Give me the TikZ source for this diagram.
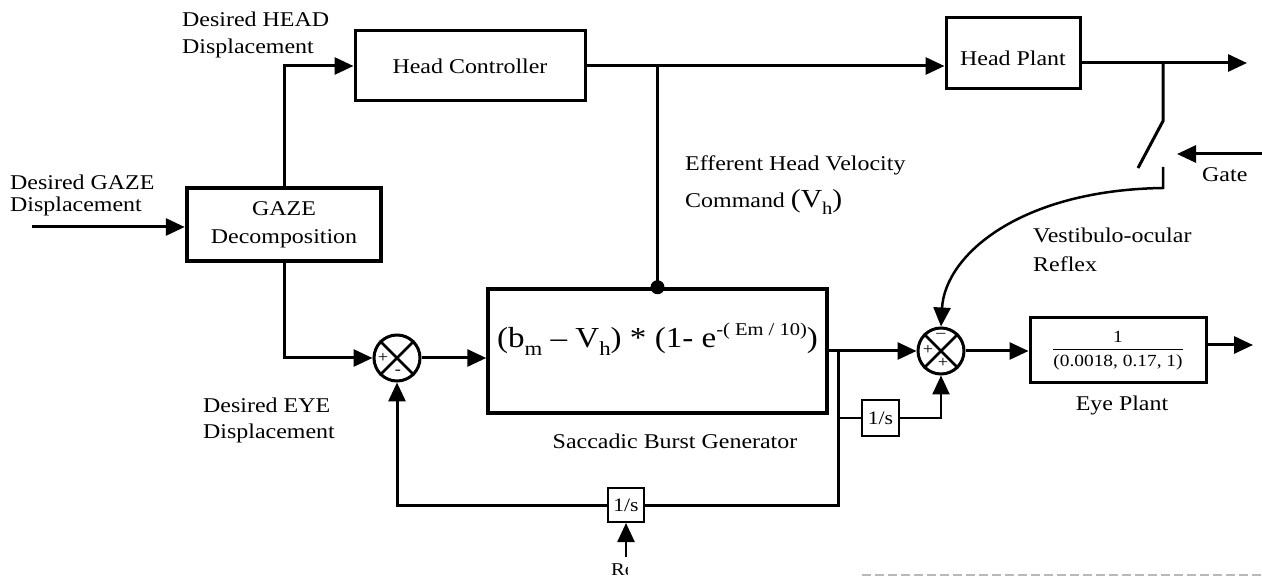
\documentclass[tikz,border=0pt]{standalone}
\usepackage{amsmath}
\usepackage{fontspec}
\setmainfont{Liberation Serif}[FakeStretch=1.14]
\usetikzlibrary{arrows.meta}
\newcommand{\lowsub}[2]{\raisebox{-0.25em}{\fontsize{#1}{#1}\selectfont #2}}
\newcommand{\highsup}[2]{\raisebox{0.42em}{\fontsize{#1}{#1}\selectfont #2}}
\begin{document}
\begin{tikzpicture}[x=1pt,y=-1pt,
  font=\fontsize{21}{26}\selectfont,
  con/.style={line width=3pt},
  arr/.style={line width=3pt,-{Triangle[length=19pt,width=17pt]}},
  blk/.style={draw,line width=3pt,inner sep=0pt},
  sblk/.style={draw,line width=2pt,inner sep=0pt,font=\fontsize{19}{20}\selectfont},
  sumc/.style={draw,circle,line width=3pt,minimum size=46pt,inner sep=0pt},
  sgn/.style={inner sep=0pt,font=\fontsize{16}{16}\selectfont},
  lbl/.style={align=left,inner sep=0pt,anchor=north west}]
\useasboundingbox (0,0) rectangle (1262,577);

% blocks
\node[blk,minimum width=230pt,minimum height=70pt] (hc) at (470,66) {Head Controller};
\node[blk,minimum width=134pt,minimum height=71pt,text height=25pt,text depth=0pt] (hp) at (1013,53.5) {Head Plant};
\node[blk,line width=4.5pt,minimum width=194pt,minimum height=73pt,align=center,font=\fontsize{21}{28}\selectfont] (gaze) at (284,224.5) {GAZE\\Decomposition};
\node[blk,line width=3.5pt,minimum width=339pt,minimum height=124pt,text height=34pt,text depth=40pt,font=\fontsize{29}{30}\selectfont] (sbg) at (657.5,351)
  {(b\lowsub{20}{m} – V\lowsub{20}{h}) * (1- e\highsup{18}{-( Em / 10)})};
\node[blk,minimum width=176pt,minimum height=65pt,font=\fontsize{17}{20}\selectfont] (eye) at (1118,350.5)
  {$\genfrac{}{}{1.3pt}{0}{\mbox{1}}{\mbox{(0.0018, 0.17, 1)}}$};
\node[sblk,minimum width=37pt,minimum height=36pt] (int1) at (880.5,418) {1/s};
\node[sblk,minimum width=36pt,minimum height=34pt] (int2) at (626,505) {1/s};

% summing junctions
\node[sumc] (sumL) at (397,358) {};
\draw[line width=2.5pt] (sumL.north east) -- (sumL.south west) (sumL.north west) -- (sumL.south east);
\node[sgn] (sL1) at ([shift={(-14,0)}]sumL.center) {+};
\node[sgn] (sL2) at ([shift={(1,14)}]sumL.center) {-};
\node[sumc] (sumR) at (941,351) {};
\draw[line width=2.5pt] (sumR.north east) -- (sumR.south west) (sumR.north west) -- (sumR.south east);
\node[sgn] (sR1) at ([shift={(0,-16)}]sumR.center) {–};
\node[sgn] (sR2) at ([shift={(-13,-1)}]sumR.center) {+};
\node[sgn] (sR3) at ([shift={(2,12)}]sumR.center) {+};

% labels
\node[lbl,font=\fontsize{21}{22}\selectfont] (lgaze) at (10,174.5) {Desired GAZE\\Displacement};
\node[lbl,font=\fontsize{21}{27}\selectfont] (lhead) at (182,11.7) {Desired HEAD\\Displacement};
\node[lbl,font=\fontsize{21}{37}\selectfont] (leff) at (685,155.7) {Efferent Head Velocity\\Command {\fontsize{26}{37}\selectfont (V\lowsub{18}{h})}};
\node[lbl,font=\fontsize{21}{29}\selectfont] (lves) at (1033,227.7) {Vestibulo-ocular\\Reflex};
\node[lbl,font=\fontsize{21}{26}\selectfont] (leye) at (203,397.7) {Desired EYE\\Displacement};
\node[inner sep=0pt,anchor=base] (lsbg) at (675,448) {Saccadic Burst Generator};
\node[inner sep=0pt,anchor=base west] (lgate) at (1202,182) {Gate};
\node[inner sep=0pt,anchor=base] (leyep) at (1122,410) {Eye Plant};
\begin{scope}
  \clip (600,545) rectangle (627,577);
  \node[inner sep=0pt,anchor=base west,font=\fontsize{18}{18}\selectfont] (lre) at (611,575) {Re};
\end{scope}

% connectors
\coordinate (in0) at (32,227);
\draw[arr] (in0) -- (gaze.west |- in0);
\draw[arr] (gaze.north) |- (hc.west);
\draw[arr] (gaze.south) |- (sumL.west);
\draw[arr] (sumL.east) -- (sumL.east -| sbg.west);
\draw[arr] (hc.east) -- (hc.east -| hp.west);
\coordinate (tap) at (sbg.north |- hc.east);
\draw[con] (tap) -- (sbg.north);
\fill (sbg.north) circle (7);

\coordinate (hout) at (1247,63);
\draw[arr] (hp.east |- hout) -- (hout);
\coordinate (sw1) at (1163,63);
\coordinate (sw2) at (1163,121);
\coordinate (sw3) at (1138,168);
\coordinate (sw4) at (1163,167);
\coordinate (sw5) at (1163,188);
\draw[con] (sw1) -- (sw2) -- (sw3);
\draw[arr,line width=2.5pt] (sw4) -- (sw5) .. controls (1020,190) and (945,255) .. (sumR.north);
\coordinate (g0) at (1262,154);
\coordinate (g1) at (1177,154);
\draw[arr] (g0) -- (g1);

\draw[arr] (sbg.east) -- (sumR.west);
\coordinate (br) at (838,351);
\draw[con] (br) |- (int2.east);
\draw[arr] (int2.west) -| (sumL.south);
\draw[line width=1.5pt] (br |- int1.west) -- (int1.west);
\draw[arr,line width=2.5pt] (int1.east) -| (sumR.south);
\draw[arr] (sumR.east) -- (sumR.east -| eye.west);
\coordinate (eout) at (1253,345);
\draw[arr] (eye.east |- eout) -- (eout);
\coordinate (re0) at (627,557);
\draw[arr,line width=2.5pt] (int2.south |- re0) -- (int2.south);

\draw[gray!55,line width=1.5pt,dash pattern=on 9pt off 4pt] (862,575) -- (1262,575);
\end{tikzpicture}
\end{document}
